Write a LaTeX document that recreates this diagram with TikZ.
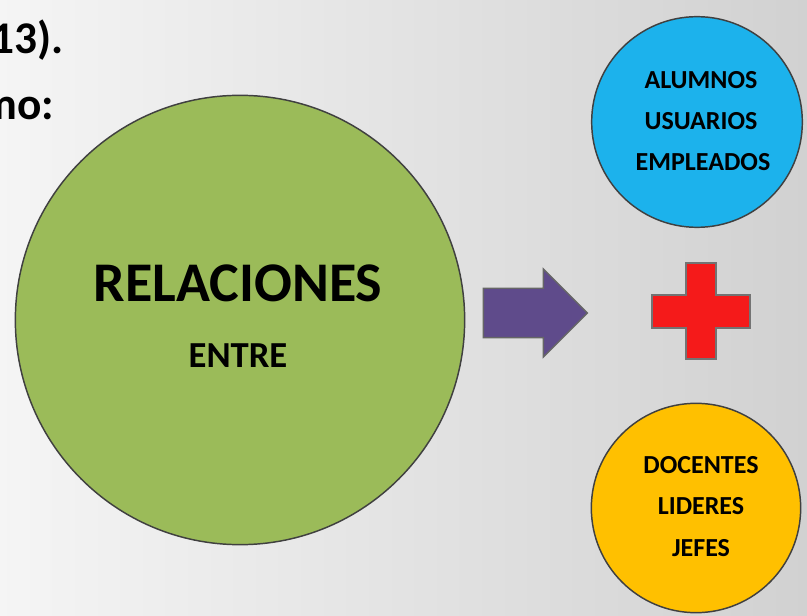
\documentclass[tikz,border=0pt]{standalone}
\usepackage{fontspec}
\setmainfont{Carlito}
\usetikzlibrary{shapes.arrows}

\definecolor{relgreen}{HTML}{9BBB59}
\definecolor{relblue}{HTML}{1CB2EC}
\definecolor{relyellow}{HTML}{FFC000}
\definecolor{relpurple}{HTML}{5F4B8B}
\definecolor{relred}{HTML}{F51A1A}

\tikzset{
  bubble/.style={circle, draw=black!75, line width=1.1pt, inner sep=0pt},
  bubbletext/.style={font=\bfseries\fontsize{19.5}{19.5}\selectfont},
}

\begin{document}
\begin{tikzpicture}[x=0.75pt,y=-0.75pt]
\useasboundingbox (0,0) rectangle (807,616);
\clip (0,0) rectangle (807,616);
\shade[left color=black!4, middle color=white, right color=black!18] (0,0) rectangle (807,616);

% left text, cut at the page edge
\node[anchor=base east, font=\bfseries\fontsize{34}{34}\selectfont] (yr) at (68,54) {013).};
\node[anchor=base east, font=\bfseries\fontsize{34}{34}\selectfont] (como) at (59,120) {mo:};

% big circle
\node[bubble, fill=relgreen, minimum size=337pt] (rel) at (240,320) {};
\node[font=\bfseries\fontsize{42}{42}\selectfont] (relt) at (238,283) {RELACIONES};
\node[font=\bfseries\fontsize{27.5}{27.5}\selectfont] (entre) at (238,356) {ENTRE};

% arrow and plus
\node[single arrow, fill=relpurple, draw=black!60, line width=1pt,
      minimum height=78pt, single arrow head extend=14.5pt,
      inner xsep=0pt, inner ysep=18pt] (arr) at (523,313) {};
\coordinate (plus) at (701,311);
\draw[fill=relred, draw=black!55, line width=1pt]
  (plus) ++(-15,-48) -- ++(30,0) -- ++(0,32) -- ++(34,0) -- ++(0,33)
  -- ++(-34,0) -- ++(0,31) -- ++(-30,0) -- ++(0,-31) -- ++(-34,0)
  -- ++(0,-33) -- ++(34,0) -- cycle;

% upper circle
\node[bubble, fill=relblue, minimum size=158pt] (up) at (697,122) {};
\node[bubbletext] (alu) at (701,80) {ALUMNOS};
\node[bubbletext] (usu) at (701,121) {USUARIOS};
\node[bubbletext] (emp) at (703,162) {EMPLEADOS};

% lower circle
\node[bubble, fill=relyellow, minimum size=157pt] (low) at (696,508) {};
\node[bubbletext] (doc) at (701,465) {DOCENTES};
\node[bubbletext] (lid) at (701,506) {LIDERES};
\node[bubbletext] (jef) at (701,548) {JEFES};
\end{tikzpicture}
\end{document}
